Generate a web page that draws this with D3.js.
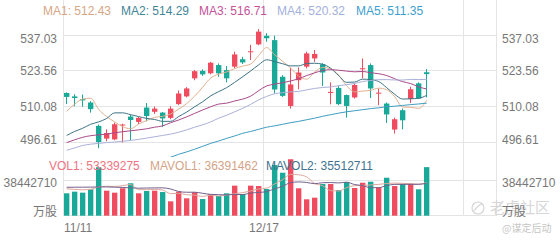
<!DOCTYPE html>
<html>
<head>
<meta charset="utf-8">
<script src="https://cdn.jsdelivr.net/npm/d3@7"></script>
<style>
  body { margin: 0; background: #fff; }
  svg { display: block; font-family: "Liberation Sans", Arial, sans-serif; }
</style>
</head>
<body>
<div id="chart"></div>
<script>
// 日期 (2019/11/11 - 2020/01/16)
const dates = ['11/11','11/12','11/13','11/14','11/15','11/18','11/19','11/20','11/21','11/22',
  '11/25','11/26','11/27','11/29','12/2','12/3','12/4','12/5','12/6','12/9',
  '12/10','12/11','12/12','12/13','12/16','12/17','12/18','12/19','12/20','12/23',
  '12/24','12/26','12/27','12/30','12/31','1/2','1/3','1/6','1/7','1/8',
  '1/9','1/10','1/13','1/14','1/15','1/16'];
const dateTicks = ['11/11', '12/17'];

// K线
const open  = [515.2,513.9,512.9,511.6,502.8,498.0,497.7,503.0,506.3,504.3,509.7,508.1,507.8,505.8,511.0,513.9,520.7,523.5,522.6,525.7,
  523.8,525.1,527.9,530.6,533.5,536.7,535.1,521.3,510.3,520.0,525.1,528.2,526.0,515.2,517.1,514.4,513.5,524.2,525.7,515.0,
  511.2,501.4,508.7,512.9,518.8,523.0];
const high  = [515.4,514.7,514.6,512.1,503.3,501.5,504.0,503.6,507.0,506.2,511.4,510.1,508.0,510.2,516.1,517.4,523.8,524.1,526.9,526.3,
  525.3,530.7,528.8,533.3,539.3,537.7,536.8,521.9,524.7,524.8,530.7,531.4,526.4,519.2,517.8,514.6,518.8,528.2,526.3,516.9,
  511.6,505.9,509.3,517.5,519.2,524.2];
const low   = [511.0,510.2,510.0,507.8,494.4,497.0,497.4,496.5,497.4,503.5,504.5,507.3,502.4,505.3,510.6,513.5,520.0,521.6,522.2,521.3,
  519.2,524.5,526.1,527.6,533.2,534.5,515.0,513.7,509.3,516.6,524.5,526.9,517.8,510.9,510.6,505.9,513.1,520.7,513.3,510.6,
  503.9,499.9,501.5,511.4,512.9,513.5];
const close = [513.7,513.3,512.4,509.1,496.7,500.1,503.4,503.3,505.0,505.8,506.5,509.3,505.6,509.3,515.0,516.9,523.4,522.2,526.6,522.6,
  520.7,529.7,526.7,530.9,538.3,535.8,516.5,514.1,518.4,522.9,530.1,529.9,522.9,515.6,511.0,510.3,518.2,524.5,516.9,515.3,
  507.1,505.3,504.9,516.6,513.1,522.3];

// 均线
const maNames = ['MA1', 'MA2', 'MA3', 'MA4', 'MA5'];
const ma1 = [508.3,511.0,512.9,513.2,509.0,506.3,504.3,502.5,501.7,503.5,504.8,506.0,506.4,507.3,509.1,511.2,514.0,517.4,520.8,522.3,
  523.1,524.4,525.3,526.1,529.3,532.3,529.6,527.1,524.6,521.5,520.4,523.1,524.8,524.3,521.9,517.9,515.6,515.9,516.2,517.0,
  516.4,513.8,509.9,509.8,509.4,512.43];
const ma2 = [499.2,500.7,501.9,503.4,504.3,505.6,507.7,507.7,507.0,506.3,505.6,505.2,504.5,504.5,506.3,508.0,510.0,511.9,514.1,515.7,
  517.2,519.2,521.3,523.5,525.8,527.7,527.0,526.2,525.4,525.4,526.3,526.4,526.0,524.5,521.7,519.2,519.3,520.4,520.2,519.5,
  517.2,514.7,512.9,513.0,513.2,514.29];
const ma3 = [496.5,497.55,498.5,499.1,499.4,499.7,500.2,500.6,500.95,501.3,501.7,502.3,502.8,504.0,505.0,506.2,507.5,508.8,510.0,511.01,
  511.36,512.18,512.9,513.99,516.07,517.85,518.51,519.05,519.72,520.57,521.75,522.78,523.65,523.96,523.76,523.43,523.17,523.29,522.8,522.44,
  521.76,520.54,519.45,518.73,517.47,516.71];
const ma4 = [493.6,494.5,495.4,495.9,496.2,496.5,496.7,497.0,497.3,497.7,498.2,498.7,499.2,499.7,500.4,501.3,502.3,503.2,504.3,505.7,
  506.8,508.1,509.4,510.9,512.6,513.9,514.9,515.3,515.6,515.81,516.35,516.91,517.26,517.47,517.95,518.29,518.78,519.49,519.89,520.2,
  520.22,520.09,520.07,520.31,520.25,520.32];
const ma5 = [null,null,null,null,null,null,null,null,null,null,488.0,489.0,490.0,491.0,492.1,493.0,494.0,495.1,496.2,497.1,
  498.1,499.0,500.0,500.7,501.5,502.3,502.8,503.4,504.0,504.5,505.1,505.7,506.4,507.0,507.6,508.1,508.5,508.9,509.3,509.6,
  510.0,510.2,510.5,510.8,511.05,511.35];

// 成交量 (百万股)
const volume = [24.6,26.4,25.3,29.0,53.2,27.5,25.3,30.1,35.6,24.6,27.1,27.5,26.0,15.8,26.4,19.1,25.7,18.3,23.5,21.6,
  24.6,33.0,23.8,33.0,32.6,29.3,55.7,47.2,62.0,30.1,18.0,19.8,34.8,34.8,28.2,37.0,30.4,36.2,37.3,31.2,
  41.7,32.6,34.8,35.1,29.0,53.339275];
const mavol1 = [29.5,29.0,28.5,29.0,31.7,32.3,32.1,33.0,34.3,28.6,28.5,29.0,28.2,24.2,24.6,23.0,22.6,21.1,22.6,21.6,
  22.7,24.2,25.3,27.2,29.4,30.3,34.9,39.6,45.4,44.9,42.6,35.4,32.9,27.5,27.1,30.9,33.0,33.3,33.8,34.4,
  35.4,35.8,35.5,35.1,34.6,36.391462];
const mavol2 = [31.2,31.3,31.3,31.4,31.6,31.6,31.3,31.0,30.6,30.2,30.4,30.5,30.6,29.3,26.6,25.75,25.8,24.6,23.4,23.1,
  22.85,23.4,23.2,24.9,25.5,26.5,29.5,32.4,36.3,37.1,36.5,35.15,36.25,36.4,36.0,36.8,34.2,33.1,30.7,30.8,
  33.1,34.4,34.4,34.45,34.5,35.512711];

const priceTicks = [537.03, 523.56, 510.08, 496.61];
const volMax = 76.88542;
const volTicks = [38.44271];
const volTickLabels = ['38442710'];

const W = 560, H = 240;
const left = 64, right = 497;
const slots = 54;
const upColor = '#f04c60', downColor = '#19a998';
const gridColor = '#e4e4e4', labelColor = '#777';

const svg = d3.select('#chart').append('svg')
  .attr('width', W).attr('height', H);

const x = d3.scaleBand().domain(d3.range(slots))
  .range([left, left + 8 * slots - 8 * 0.33]).paddingInner(0.33).paddingOuter(0);
const bw = x.bandwidth();
const cx = i => x(i) + bw / 2;

const y = d3.scaleLinear().domain([496.61, 537.03]).range([142.3, 35]);
const yv = d3.scaleLinear().domain([0, volMax]).range([215.7, 145.7]);

const defs = svg.append('defs');
defs.append('clipPath').attr('id', 'clipP')
  .append('rect').attr('x', left).attr('y', 20).attr('width', right - left).attr('height', 137);
defs.append('clipPath').attr('id', 'clipV')
  .append('rect').attr('x', left).attr('y', 145).attr('width', right - left).attr('height', 72);

// 网格
const grid = svg.append('g').attr('stroke', gridColor).attr('stroke-width', 1);
[0, 25, 50].forEach(i => {
  const gx = Math.floor(x(i)) - 0.5;
  grid.append('line').attr('x1', gx).attr('x2', gx).attr('y1', 0).attr('y2', 216);
});
grid.append('line').attr('x1', right - 0.5).attr('x2', right - 0.5).attr('y1', 0).attr('y2', 216);
priceTicks.forEach(t => {
  const gy = Math.floor(y(t)) + 0.5;
  grid.append('line').attr('x1', left).attr('x2', right).attr('y1', gy).attr('y2', gy);
});
volTicks.forEach(t => {
  const gy = Math.floor(yv(t)) + 0.5;
  grid.append('line').attr('x1', left).attr('x2', right).attr('y1', gy).attr('y2', gy);
});
grid.append('line').attr('x1', left).attr('x2', right).attr('y1', 215.5).attr('y2', 215.5);

// 水印
const wm = svg.append('g');
wm.append('circle').attr('cx', 478).attr('cy', 208).attr('r', 6)
  .attr('fill', 'none').attr('stroke', '#d4d4d4').attr('stroke-width', 1.2);
wm.append('path').attr('d', 'M474,211 Q478,205 482,204').attr('fill', 'none')
  .attr('stroke', '#d4d4d4').attr('stroke-width', 1.2);
wm.append('text').attr('x', 490).attr('y', 213).attr('fill', '#d6d6d6')
  .style('font-family', '"Noto Sans CJK SC", sans-serif').style('font-size', '15px').text('老虎社区');
wm.append('text').attr('x', 502).attr('y', 232).attr('fill', '#c6c6c6')
  .style('font-family', '"Noto Sans CJK SC", sans-serif').style('font-size', '10px').text('@谋定后动');

// 蜡烛
const candles = svg.append('g').attr('clip-path', 'url(#clipP)');
const colorOf = i => close[i] >= open[i] ? upColor : downColor;

candles.selectAll('.wick').data(close).join('line')
  .attr('class', 'wick')
  .attr('x1', (d, i) => Math.floor(cx(i)) + 0.5)
  .attr('x2', (d, i) => Math.floor(cx(i)) + 0.5)
  .attr('y1', (d, i) => y(high[i]))
  .attr('y2', (d, i) => y(low[i]))
  .attr('stroke', (d, i) => colorOf(i))
  .attr('stroke-width', 1);

candles.selectAll('.body').data(close).join('rect')
  .attr('class', 'body')
  .attr('x', (d, i) => x(i))
  .attr('width', bw)
  .attr('y', (d, i) => Math.min(y(open[i]), y(close[i])))
  .attr('height', (d, i) => Math.max(1, Math.abs(y(open[i]) - y(close[i]))))
  .attr('fill', (d, i) => colorOf(i));

// 均线
const maColors = ['#e0b08e', '#3d7385', '#a9498a', '#aab1d9', '#3e9dc1'];
const maSeries = [ma1, ma2, ma3, ma4, ma5];
const line = d3.line()
  .defined(d => d != null)
  .x((d, i) => cx(i))
  .y(d => y(d))
  .curve(d3.curveMonotoneX);
maSeries.forEach((s, k) => {
  candles.append('path').datum(s)
    .attr('d', line)
    .attr('fill', 'none')
    .attr('stroke', maColors[k])
    .attr('stroke-width', 1);
});

// 成交量
const vols = svg.append('g').attr('clip-path', 'url(#clipV)');
vols.selectAll('rect').data(volume).join('rect')
  .attr('x', (d, i) => x(i))
  .attr('width', bw)
  .attr('y', d => yv(d))
  .attr('height', d => yv(0) - yv(d))
  .attr('fill', (d, i) => colorOf(i));

const vline = d3.line()
  .x((d, i) => cx(i))
  .y(d => yv(d))
  .curve(d3.curveMonotoneX);
[[mavol1, '#dca79c'], [mavol2, '#74608c']].forEach(([s, c]) => {
  vols.append('path').datum(s)
    .attr('d', vline)
    .attr('fill', 'none')
    .attr('stroke', c)
    .attr('stroke-width', 1);
});

// 图例
const legendColors = ['#d6a686', '#3f8597', '#c4529a', '#a3b0dc', '#3d9fcf'];
const legendX = [43, 121, 199, 277, 356];
svg.append('g').selectAll('text').data(maSeries).join('text')
  .attr('x', (d, k) => legendX[k])
  .attr('y', 14.5)
  .attr('fill', (d, k) => legendColors[k])
  .style('font-size', '12px')
  .text((d, k) => `${maNames[k]}: ${d[d.length - 1].toFixed(2)}`);

const volLegend = [
  {name: 'VOL1', v: volume[volume.length - 1], c: '#ee7482', x: 49},
  {name: 'MAVOL1', v: mavol1[mavol1.length - 1], c: '#d3a487', x: 150},
  {name: 'MAVOL2', v: mavol2[mavol2.length - 1], c: '#3f7391', x: 266}
];
svg.append('g').selectAll('text').data(volLegend).join('text')
  .attr('x', d => d.x)
  .attr('y', 170)
  .attr('fill', d => d.c)
  .style('font-size', '12px')
  .text(d => `${d.name}: ${(d.v * 1e6).toFixed(0)}`);

// 坐标轴文字
const axisText = svg.append('g').attr('fill', labelColor).style('font-size', '12px');
const priceLabelY = t => {
  const gy = y(t);
  if (gy < 40) return gy + 8.3;
  if (gy > 140) return gy + 1.7;
  return gy + 4.3;
};
priceTicks.forEach(t => {
  axisText.append('text').attr('x', 57).attr('y', priceLabelY(t))
    .attr('text-anchor', 'end').text(t.toFixed(2));
  axisText.append('text').attr('x', 502).attr('y', priceLabelY(t))
    .text(t.toFixed(2));
});
volTicks.forEach((t, k) => {
  axisText.append('text').attr('x', 57).attr('y', yv(t) + 6.3)
    .attr('text-anchor', 'end').text(volTickLabels[k]);
  axisText.append('text').attr('x', 502).attr('y', yv(t) + 6.3)
    .text(volTickLabels[k]);
});
['end', 'start'].forEach((anchor, k) => {
  axisText.append('text').attr('x', k ? 502 : 57).attr('y', 215.5)
    .attr('text-anchor', anchor)
    .style('font-family', '"Noto Sans CJK SC", sans-serif')
    .text('万股');
});
dateTicks.forEach(d => {
  const i = dates.indexOf(d);
  axisText.append('text')
    .attr('x', i === 0 ? x(i) : Math.floor(x(i)))
    .attr('y', 231.5)
    .attr('text-anchor', i === 0 ? 'start' : 'middle')
    .text(d);
});
</script>
</body>
</html>
